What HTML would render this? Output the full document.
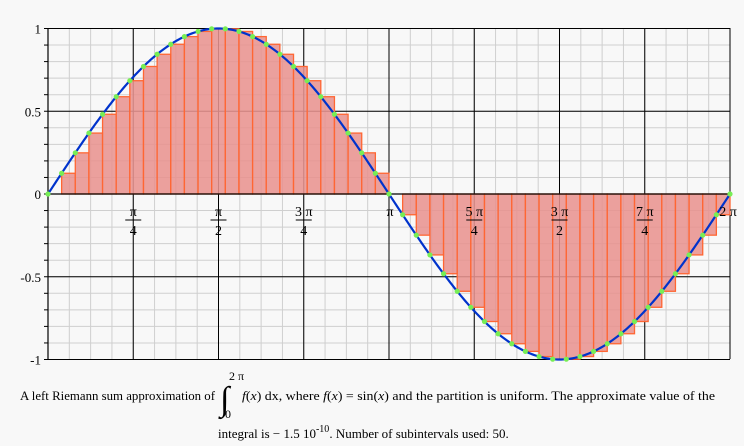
<!DOCTYPE html>
<html><head><meta charset="utf-8"><style>
body{margin:0;background:#f8f8f8;width:744px;height:446px;overflow:hidden;font-family:"Liberation Serif",serif;}
svg{position:absolute;left:0;top:0}
</style></head><body>
<svg id="s" width="744" height="446" xmlns="http://www.w3.org/2000/svg" font-family="Liberation Serif, serif"></svg>
<script>
const X0=48,X1=730,Y0=194,S=165.5;
const W=X1-X0,P=Math.PI;
const px=t=>X0+t/(2*P)*W, py=v=>Y0-v*S;
let h='';
for(let i=0;i<=32;i++){const x=px(i*P/16);h+=`<line x1="${x}" y1="28" x2="${x}" y2="359" stroke="#cfcfcf" stroke-width="1"/>`;}
for(let i=-10;i<=10;i++){const y=py(i/10);h+=`<line x1="48" y1="${y}" x2="730" y2="${y}" stroke="#cfcfcf" stroke-width="1"/>`;}
for(let i=0;i<=8;i++){const x=px(i*P/4);h+=`<line x1="${x}" y1="28" x2="${x}" y2="359" stroke="#000" stroke-width="1"/>`;}
for(let i=-2;i<=2;i++){const y=py(i/2);h+=`<line x1="48" y1="${y}" x2="730" y2="${y}" stroke="#000" stroke-width="1"/>`;}
const N=50;
for(let i=0;i<N;i++){const a=i*2*P/N,b=(i+1)*2*P/N,v=Math.sin(a);
 const xa=px(a),xb=px(b),y=py(v);
 h+=`<rect x="${xa}" y="${Math.min(y,Y0)}" width="${xb-xa}" height="${Math.abs(y-Y0)}" fill="#e8938f" fill-opacity="0.88" stroke="#ff6633" stroke-width="1.3"/>`;}
h+=`<line x1="48" y1="28" x2="48" y2="359" stroke="#000" stroke-width="1.2"/>`;
h+=`<line x1="48" y1="194" x2="730" y2="194" stroke="#000" stroke-width="1.2"/>`;
for(let i=-10;i<=10;i++){const y=py(i/10);h+=`<line x1="44" y1="${y}" x2="48" y2="${y}" stroke="#000"/>`;}
let d='';for(let k=0;k<=400;k++){const t=k*2*P/400;d+=(k?'L':'M')+px(t).toFixed(2)+' '+py(Math.sin(t)).toFixed(2);}
h+=`<path d="${d}" fill="none" stroke="#0033cc" stroke-width="2.2"/>`;
for(let i=0;i<=N;i++){const t=i*2*P/N;h+=`<circle cx="${px(t)}" cy="${py(Math.sin(t))}" r="2.6" fill="#77ee55"/>`;}
[[1,'1'],[0.5,'0.5'],[0,'0'],[-0.5,'-0.5'],[-1,'-1']].forEach(([v,t])=>{h+=`<text x="41" y="${py(v)+5}" font-size="13" text-anchor="end">${t}</text>`;});
const fr=[[1,'π','4'],[2,'π','2'],[3,'3 π','4'],[5,'5 π','4'],[6,'3 π','2'],[7,'7 π','4']];
fr.forEach(([k,n,dn])=>{const x=px(k*P/4);h+=`<text x="${x}" y="216" font-size="14" text-anchor="middle">${n}</text><line x1="${x-8}" y1="220" x2="${x+8}" y2="220" stroke="#000"/><text x="${x}" y="235" font-size="14" text-anchor="middle">${dn}</text>`;});
h+=`<text x="390" y="216" font-size="14" text-anchor="middle">π</text>`;
h+=`<text x="728" y="216" font-size="14" text-anchor="middle">2 π</text>`;
h+=`<text x="20" y="400" font-size="13" textLength="195" lengthAdjust="spacingAndGlyphs">A left Riemann sum approximation of</text>`;
h+=`<text x="220" y="410" font-size="34" font-weight="lighter">∫</text>`;
h+=`<text x="229" y="380" font-size="12">2 π</text><text x="225" y="418" font-size="12">0</text>`;
h+=`<text x="242" y="400" font-size="13" textLength="473" lengthAdjust="spacingAndGlyphs"><tspan font-style="italic">f</tspan>(<tspan font-style="italic">x</tspan>) dx, where <tspan font-style="italic">f</tspan>(<tspan font-style="italic">x</tspan>) = sin(<tspan font-style="italic">x</tspan>) and the partition is uniform.  The approximate value of the</text>`;
h+=`<text x="218" y="438" font-size="13">integral is − 1.5 10<tspan dy="-6" font-size="10">-10</tspan><tspan dy="6">.  Number of subintervals used: 50.</tspan></text>`;
document.getElementById('s').innerHTML=h;
</script>
</body></html>
